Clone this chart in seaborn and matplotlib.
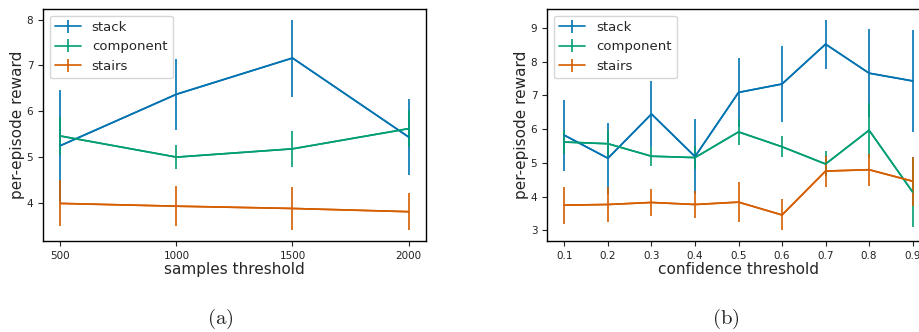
import matplotlib
matplotlib.use("Agg")
import matplotlib.pyplot as plt
import seaborn as sns
import pandas as pd

# ---- data ----
series = ["stack", "component", "stairs"]

samples_x = [500, 1000, 1500, 2000]
samples_stack = [5.25, 6.37, 7.16, 5.44]
samples_stack_err = [1.22, 0.77, 0.84, 0.82]
samples_component = [5.46, 5.00, 5.18, 5.62]
samples_component_err = [0.42, 0.26, 0.39, 0.40]
samples_stairs = [3.99, 3.93, 3.88, 3.81]
samples_stairs_err = [0.50, 0.44, 0.47, 0.41]

conf_x = [0.1, 0.2, 0.3, 0.4, 0.5, 0.6, 0.7, 0.8, 0.9]
conf_stack = [5.82, 5.14, 6.45, 5.19, 7.09, 7.34, 8.52, 7.66, 7.43]
conf_stack_err = [1.05, 1.05, 0.98, 1.10, 1.03, 1.14, 0.73, 1.30, 1.52]
conf_component = [5.62, 5.57, 5.20, 5.16, 5.92, 5.48, 4.97, 5.97, 4.14]
conf_component_err = [0.35, 0.42, 0.28, 0.33, 0.39, 0.31, 0.37, 0.82, 1.05]
conf_stairs = [3.75, 3.77, 3.83, 3.77, 3.84, 3.46, 4.76, 4.80, 4.46]
conf_stairs_err = [0.55, 0.52, 0.41, 0.40, 0.60, 0.46, 0.46, 0.48, 0.72]

xlabels = ["samples threshold", "confidence threshold"]
captions = ["(a)", "(b)"]
ylabel = "per-episode reward"

sns.set_style("ticks")
plt.rcParams["font.family"] = ["DejaVu Sans"]
plt.rcParams["mathtext.fontset"] = "cm"
pal = sns.color_palette("colorblind")
colors = {"stack": pal[0], "component": pal[2], "stairs": pal[3]}

fig = plt.figure(figsize=(9.2, 3.32), dpi=100)
ax1 = fig.add_axes([0.0467, 0.274, 0.4163, 0.699])
ax2 = fig.add_axes([0.5946, 0.274, 0.4163, 0.699])

panels = [
    (ax1, samples_x, [(samples_stack, samples_stack_err),
                      (samples_component, samples_component_err),
                      (samples_stairs, samples_stairs_err)]),
    (ax2, conf_x, [(conf_stack, conf_stack_err),
                   (conf_component, conf_component_err),
                   (conf_stairs, conf_stairs_err)]),
]

for i, (ax, xs, data) in enumerate(panels):
    rows = []
    for name, (ys, es) in zip(series, data):
        for x, y in zip(xs, ys):
            rows.append({"x": x, "y": y, "series": name})
    df = pd.DataFrame(rows)
    sns.lineplot(data=df, x="x", y="y", hue="series", palette=colors,
                 ax=ax, legend=False, linewidth=1.2, hue_order=series)
    for name, (ys, es) in zip(series, data):
        ax.errorbar(xs, ys, yerr=es, color=colors[name], linewidth=1.2,
                    elinewidth=1.2, capsize=0, label=name)
    ax.set_xticks(xs)
    if i == 1:
        ax.set_xticklabels([f"{v:.1f}" for v in xs])
    ax.set_xlabel(xlabels[i], fontsize=11, labelpad=1)
    ax.set_ylabel(ylabel, fontsize=11, labelpad=1)
    ax.tick_params(labelsize=7.5, length=3.5, width=0.8, colors="#222222")
    for s in ax.spines.values():
        s.set_color("black")
        s.set_linewidth(1.0)
    ax.legend(loc="upper left", fontsize=9.5, frameon=True, framealpha=0.8,
              borderaxespad=0.5, handlelength=2.0)
    ax.margins(x=0.05, y=0.05)

fig.text(0.239, 0.04, r"$\mathrm{(a)}$", ha="center", va="center", fontsize=15)
fig.text(0.789, 0.04, r"$\mathrm{(b)}$", ha="center", va="center", fontsize=15)

fig.savefig("out.png", dpi=100)
